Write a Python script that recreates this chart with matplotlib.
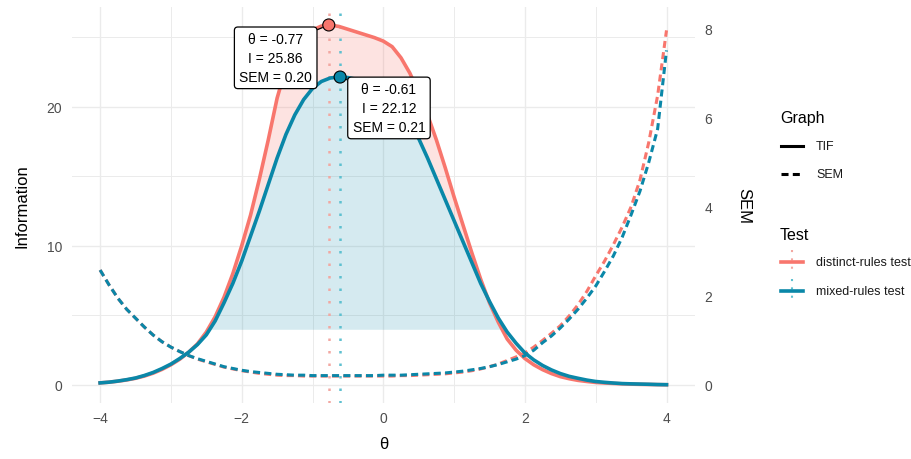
import numpy as np
import matplotlib.pyplot as plt
from matplotlib.lines import Line2D

plt.rcParams['font.family'] = ['Liberation Sans', 'DejaVu Sans']

# values (theta step 0.125)
theta = [-4.0, -3.875, -3.75, -3.625, -3.5, -3.375, -3.25, -3.125,
         -3.0, -2.875, -2.75, -2.625, -2.5, -2.375, -2.25, -2.125,
         -2.0, -1.875, -1.75, -1.625, -1.5, -1.375, -1.25, -1.125,
         -1.0, -0.875, -0.75, -0.625, -0.5, -0.375, -0.25, -0.125,
         0.0, 0.125, 0.25, 0.375, 0.5, 0.625, 0.75, 0.875,
         1.0, 1.125, 1.25, 1.375, 1.5, 1.625, 1.75, 1.875,
         2.0, 2.125, 2.25, 2.375, 2.5, 2.625, 2.75, 2.875,
         3.0, 3.125, 3.25, 3.375, 3.5, 3.625, 3.75, 3.875, 4.0]
tif_distinct = [0.15, 0.2, 0.27, 0.36, 0.48, 0.64, 0.85, 1.12,
                1.45, 1.85, 2.35, 2.95, 3.8, 4.9, 6.3, 8.0,
                10.0, 12.2, 14.8, 17.6, 20.6, 22.8, 24.2, 25.0,
                25.5, 25.78, 25.86, 25.75, 25.55, 25.35, 25.15, 24.95,
                24.7, 24.3, 23.5, 22.4, 21.0, 19.4, 17.6, 15.6,
                13.5, 11.5, 9.5, 7.6, 5.9, 4.5, 3.3, 2.5,
                1.9, 1.45, 1.1, 0.82, 0.6, 0.45, 0.33, 0.25,
                0.18, 0.14, 0.11, 0.08, 0.06, 0.045, 0.035, 0.025, 0.016]
tif_mixed = [0.15, 0.2, 0.28, 0.38, 0.5, 0.68, 0.9, 1.18,
             1.5, 1.9, 2.35, 2.9, 3.6, 4.6, 5.9, 7.3,
             8.9, 10.7, 12.5, 14.4, 16.3, 18.0, 19.4, 20.5,
             21.3, 21.8, 22.05, 22.12, 22.08, 21.95, 21.7, 21.35,
             20.9, 20.3, 19.6, 18.7, 17.7, 16.3, 14.8, 13.3,
             11.8, 10.3, 8.8, 7.3, 6.0, 4.8, 3.8, 3.0,
             2.3, 1.8, 1.4, 1.08, 0.82, 0.62, 0.48, 0.35,
             0.25, 0.19, 0.14, 0.1, 0.08, 0.065, 0.05, 0.03, 0.02]
sem_distinct = [2.58, 2.25, 1.95, 1.7, 1.5, 1.3, 1.12, 0.97,
                0.85, 0.75, 0.66, 0.58, 0.52, 0.46, 0.40, 0.36,
                0.32, 0.29, 0.26, 0.24, 0.22, 0.21, 0.21, 0.20,
                0.20, 0.20, 0.20, 0.20, 0.20, 0.20, 0.20, 0.20,
                0.20, 0.20, 0.21, 0.21, 0.22, 0.23, 0.24, 0.25,
                0.27, 0.29, 0.32, 0.36, 0.41, 0.47, 0.55, 0.63,
                0.72, 0.85, 1.0, 1.16, 1.33, 1.55, 1.8, 2.1,
                2.45, 2.78, 3.15, 3.55, 4.0, 4.6, 5.45, 6.5, 7.96]
sem_mixed = [2.58, 2.25, 1.95, 1.7, 1.5, 1.3, 1.12, 0.97,
             0.85, 0.75, 0.66, 0.59, 0.53, 0.47, 0.41, 0.37,
             0.33, 0.30, 0.28, 0.26, 0.24, 0.23, 0.22, 0.22,
             0.21, 0.21, 0.21, 0.21, 0.21, 0.21, 0.21, 0.21,
             0.22, 0.22, 0.22, 0.23, 0.24, 0.25, 0.26, 0.27,
             0.29, 0.31, 0.34, 0.37, 0.41, 0.46, 0.52, 0.58,
             0.66, 0.78, 0.95, 1.1, 1.28, 1.48, 1.7, 1.95,
             2.22, 2.55, 2.9, 3.32, 3.82, 4.35, 5.0, 5.75, 7.51]

tests = ['distinct-rules test', 'mixed-rules test']
peak_theta = [-0.77, -0.61]
peak_info = [25.86, 22.12]
peak_sem = [0.20, 0.21]
label_pos = [(-1.52, 23.5), (0.08, 19.9)]
label_rel = [(1, 1), (0, 1)]

colors = ['#F8766D', '#0A87A8']
vline_colors = ['#F2A8A2', '#5EC0D0']
sem_scale = 3.2
cutoff = 4

th = np.array(theta)
tifs = [np.array(tif_distinct), np.array(tif_mixed)]
sems = [np.array(sem_distinct), np.array(sem_mixed)]

fig = plt.figure(figsize=(9.11, 4.6), dpi=100)
ax = fig.add_axes([0.0788, 0.1222, 0.6839, 0.8604])

# shaded areas above the cut-off
low = np.maximum(tifs[1], cutoff)
ax.fill_between(th, low, tifs[0], where=tifs[0] > low, interpolate=True,
                color=colors[0], alpha=0.2, lw=0, zorder=0.6)
ax.fill_between(th, cutoff, tifs[1], where=tifs[1] > cutoff, interpolate=True,
                color=colors[1], alpha=0.17, lw=0, zorder=0.6)

for i in range(2):
    ax.axvline(peak_theta[i], color=vline_colors[i], ls=(0, (1, 4)), lw=1.8, zorder=1.5)

for i in range(2):
    ax.plot(th, tifs[i], color=colors[i], lw=2.6, zorder=2 + i, solid_joinstyle='round')
    ax.plot(th, sems[i] * sem_scale, color=colors[i], lw=2.2, ls=(0, (2.3, 1.4)),
            zorder=2 + i)

ax.scatter(peak_theta, peak_info, s=75, c=colors, edgecolors='black',
           linewidths=0.8, zorder=6)

for i in range(2):
    txt = f"θ = {peak_theta[i]:.2f}\nI = {peak_info[i]:.2f}\nSEM = {peak_sem[i]:.2f}"
    ax.annotate(txt, xy=(peak_theta[i], peak_info[i]), xytext=label_pos[i],
                ha='center', va='center', fontsize=10, linespacing=1.45, zorder=7,
                bbox=dict(boxstyle='round,pad=0.35,rounding_size=0.25', fc='white',
                          ec='black', lw=0.9),
                arrowprops=dict(arrowstyle='-', color='black', lw=0.9,
                                relpos=label_rel[i], shrinkA=0, shrinkB=5))

ax.set_xlim(-4.4, 4.4)
ax.set_ylim(-1.28, 27.15)
ax.set_xticks([-4, -2, 0, 2, 4])
ax.set_xticklabels(['\u22124', '\u22122', '0', '2', '4'])
ax.set_xticks([-3, -1, 1, 3], minor=True)
ax.set_yticks([0, 10, 20])
ax.set_yticks([5, 15, 25], minor=True)
ax.grid(which='major', color='#EBEBEB', lw=1.0)
ax.grid(which='minor', color='#EBEBEB', lw=0.7)
ax.set_axisbelow(True)
for s in ax.spines.values():
    s.set_visible(False)
ax.tick_params(which='both', length=0, labelsize=10, labelcolor='#4D4D4D')
ax.tick_params(axis='y', pad=7)
ax.tick_params(axis='x', pad=6)
ax.set_xlabel('θ', fontsize=12, labelpad=8)
ax.set_ylabel('Information', fontsize=12, labelpad=12)

sec = ax.secondary_yaxis('right', functions=(lambda v: v / sem_scale, lambda v: v * sem_scale))
sec.set_yticks([0, 2, 4, 6, 8])
for s in sec.spines.values():
    s.set_visible(False)
sec.tick_params(length=0, labelsize=10, labelcolor='#4D4D4D', pad=7)
sec.set_ylabel('SEM', fontsize=12, rotation=270, labelpad=28)

# legend drawn in figure pixels
W, H = 911, 460


def fx(px):
    return px / W


def fy(py):
    return 1 - py / H


fig.text(fx(780), fy(119), 'Graph', fontsize=11.5, va='center', ha='left')
fig.text(fx(780), fy(235), 'Test', fontsize=11.5, va='center', ha='left')
key_styles = [('TIF', '-', 146.7), ('SEM', (0, (2.3, 1.4)), 175)]
for lab, ls, y in key_styles:
    fig.add_artist(Line2D([fx(781), fx(803)], [fy(y), fy(y)], color='black', lw=2.2,
                          ls=ls, transform=fig.transFigure))
    fig.text(fx(816), fy(y), lab, fontsize=9, va='center', ha='left', color='#1a1a1a')
for i, y in enumerate([263.3, 291.7]):
    fig.add_artist(Line2D([fx(792), fx(792)], [fy(y - 12), fy(y + 12)],
                          color=vline_colors[i], lw=1.5, ls=(0, (1, 3)),
                          transform=fig.transFigure))
    fig.add_artist(Line2D([fx(781), fx(803)], [fy(y), fy(y)], color=colors[i], lw=2.6,
                          transform=fig.transFigure))
    fig.text(fx(816), fy(y), tests[i], fontsize=9, va='center', ha='left', color='#1a1a1a')

fig.savefig('out.png', dpi=100, facecolor='white')
